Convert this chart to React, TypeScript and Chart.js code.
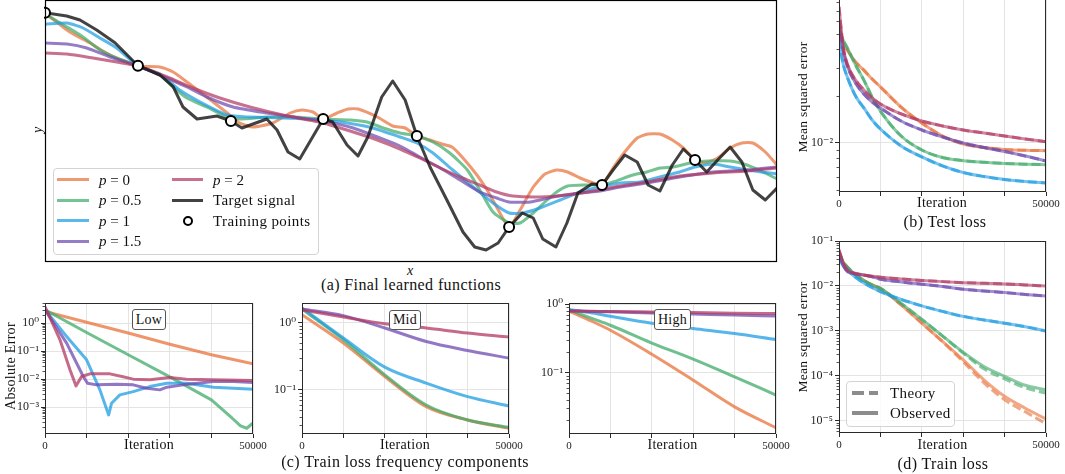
import React, { useEffect, useRef } from 'react';
import { Chart, registerables } from 'chart.js';

Chart.register(...registerables);

const FONT = '"Liberation Serif", "DejaVu Serif", serif';
Chart.defaults.font.family = FONT;

// ---------- colours of the five p values ----------
const COLOR_P0 = [232, 113, 58];
const COLOR_P05 = [64, 170, 106];
const COLOR_P1 = [30, 156, 226];
const COLOR_P15 = [108, 74, 176];
const COLOR_P2 = [178, 58, 98];
const rgba = (c: number[], a: number) => `rgba(${c[0]},${c[1]},${c[2]},${a})`;

// ---------- (a) final learned functions: [x, y] ----------
const targetSignal: [number, number][] = [
  [0, 1.873], [0.0296, 1.84], [0.0478, 1.8], [0.0706, 1.7], [0.0956, 1.573], [0.127, 1.343],
  [0.157, 1.25], [0.175, 1.133], [0.1885, 0.93], [0.2077, 0.81], [0.235, 0.84], [0.254, 0.79],
  [0.269, 0.72], [0.303, 0.81], [0.317, 0.7], [0.332, 0.48], [0.348, 0.41], [0.38, 0.81],
  [0.393, 0.78], [0.4126, 0.55], [0.4276, 0.44], [0.441, 0.63], [0.46, 1.03], [0.475, 1.19],
  [0.492, 1.0], [0.508, 0.64], [0.526, 0.33], [0.549, 0.0], [0.571, -0.32], [0.587, -0.47],
  [0.6025, -0.5], [0.619, -0.43], [0.634, -0.27], [0.652, -0.13], [0.667, -0.18], [0.68, -0.39],
  [0.698, -0.47], [0.713, -0.23], [0.728, 0.07], [0.747, 0.16], [0.761, 0.15], [0.776, 0.3],
  [0.792, 0.45], [0.809, 0.38], [0.824, 0.15], [0.84, 0.09], [0.857, 0.35], [0.872, 0.51],
  [0.888, 0.4], [0.904, 0.28], [0.919, 0.4], [0.936, 0.53], [0.952, 0.38], [0.967, 0.1],
  [0.984, 0.0], [1.0, 0.12],
];
const trainingPoints: [number, number][] = [
  [0, 1.873], [0.127, 1.343], [0.254, 0.79], [0.38, 0.81], [0.508, 0.64], [0.634, -0.27], [0.761, 0.15], [0.888, 0.4],
];
const fnP0: [number, number][] = [
  [0, 1.87], [0.034, 1.68], [0.0615, 1.57], [0.0888, 1.45], [0.127, 1.34], [0.157, 1.33], [0.175, 1.28],
  [0.194, 1.18], [0.221, 1.03], [0.249, 0.87], [0.266, 0.77], [0.284, 0.73], [0.311, 0.77], [0.335, 0.87],
  [0.351, 0.9], [0.366, 0.88], [0.38, 0.81], [0.399, 0.87], [0.414, 0.91], [0.428, 0.91], [0.454, 0.83],
  [0.475, 0.74], [0.492, 0.72], [0.508, 0.64], [0.526, 0.6], [0.542, 0.56], [0.556, 0.53], [0.571, 0.42],
  [0.59, 0.25], [0.604, 0.1], [0.617, -0.07], [0.634, -0.27], [0.649, -0.1], [0.667, 0.13], [0.683, 0.26],
  [0.699, 0.3], [0.714, 0.28], [0.731, 0.22], [0.749, 0.17], [0.761, 0.15], [0.776, 0.32], [0.792, 0.48],
  [0.809, 0.62], [0.824, 0.66], [0.84, 0.66], [0.857, 0.6], [0.872, 0.52], [0.888, 0.4], [0.902, 0.37],
  [0.919, 0.42], [0.936, 0.52], [0.952, 0.57], [0.967, 0.57], [0.984, 0.48], [1.0, 0.35],
];
const fnP05: [number, number][] = [
  [0, 1.86], [0.03, 1.73], [0.052, 1.63], [0.075, 1.5], [0.098, 1.42], [0.127, 1.34], [0.157, 1.25],
  [0.175, 1.13], [0.194, 1.02], [0.221, 0.93], [0.249, 0.83], [0.266, 0.81], [0.303, 0.83], [0.339, 0.83],
  [0.38, 0.81], [0.417, 0.8], [0.44, 0.78], [0.462, 0.72], [0.485, 0.67], [0.508, 0.64], [0.53, 0.58],
  [0.553, 0.47], [0.577, 0.3], [0.594, 0.1], [0.612, -0.12], [0.634, -0.23], [0.649, -0.23], [0.667, -0.13],
  [0.686, 0.0], [0.699, 0.08], [0.714, 0.14], [0.74, 0.15], [0.761, 0.15], [0.776, 0.18], [0.803, 0.25],
  [0.822, 0.28], [0.84, 0.32], [0.858, 0.33], [0.888, 0.38], [0.906, 0.39], [0.936, 0.39], [0.959, 0.35],
  [0.981, 0.28], [1.0, 0.21],
];
const fnP1: [number, number][] = [
  [0, 1.76], [0.03, 1.77], [0.052, 1.72], [0.075, 1.62], [0.098, 1.52], [0.127, 1.34], [0.157, 1.26],
  [0.184, 1.1], [0.212, 0.98], [0.249, 0.85], [0.28, 0.83], [0.325, 0.82], [0.38, 0.8], [0.421, 0.76],
  [0.448, 0.72], [0.485, 0.63], [0.508, 0.57], [0.53, 0.47], [0.557, 0.3], [0.585, 0.13], [0.612, -0.03],
  [0.634, -0.13], [0.653, -0.13], [0.676, -0.08], [0.704, 0.0], [0.731, 0.08], [0.758, 0.13], [0.786, 0.17],
  [0.813, 0.18], [0.84, 0.23], [0.867, 0.28], [0.888, 0.33], [0.913, 0.36], [0.936, 0.33], [0.959, 0.3],
  [1.0, 0.26],
];
const fnP15: [number, number][] = [
  [0, 1.57], [0.03, 1.56], [0.057, 1.52], [0.089, 1.43], [0.127, 1.34], [0.157, 1.25], [0.194, 1.13],
  [0.221, 1.03], [0.257, 0.93], [0.303, 0.87], [0.348, 0.82], [0.38, 0.79], [0.421, 0.72], [0.454, 0.63],
  [0.485, 0.54], [0.512, 0.43], [0.54, 0.32], [0.567, 0.2], [0.594, 0.08], [0.617, 0.02], [0.634, -0.02],
  [0.663, -0.02], [0.694, 0.03], [0.731, 0.07], [0.758, 0.09], [0.786, 0.13], [0.822, 0.17], [0.867, 0.23],
  [0.913, 0.28], [0.959, 0.3], [1.0, 0.33],
];
const fnP2: [number, number][] = [
  [0, 1.47], [0.03, 1.46], [0.0656, 1.42], [0.098, 1.38], [0.127, 1.34], [0.167, 1.23], [0.202, 1.12],
  [0.239, 1.02], [0.28, 0.93], [0.325, 0.85], [0.38, 0.77], [0.421, 0.68], [0.454, 0.6], [0.485, 0.51],
  [0.512, 0.42], [0.54, 0.32], [0.567, 0.23], [0.594, 0.15], [0.617, 0.08], [0.639, 0.04], [0.676, 0.03],
  [0.713, 0.05], [0.749, 0.09], [0.786, 0.14], [0.822, 0.18], [0.867, 0.24], [0.913, 0.27], [0.959, 0.29],
  [1.0, 0.32],
];

// ---------- (b) test loss and (d) train loss ----------
const ITER = [0, 1000, 2000, 4000, 6000, 8000, 10000, 15000, 20000, 25000, 30000, 35000, 40000, 45000, 50000];
const testP0 = [0.058, 0.0436, 0.0393, 0.0329, 0.0292, 0.0256, 0.0228, 0.0169, 0.01336, 0.01104, 0.00981, 0.00932, 0.00905, 0.00894, 0.00889];
const testP05 = [0.0528, 0.0455, 0.0405, 0.0315, 0.0252, 0.0196, 0.01595, 0.01104, 0.00898, 0.00804, 0.00767, 0.00749, 0.00736, 0.00728, 0.00723];
const testP1 = [0.0455, 0.03195, 0.02636, 0.0199, 0.0167, 0.01398, 0.01224, 0.00953, 0.0081, 0.0071, 0.00644, 0.00607, 0.00581, 0.00564, 0.00552];
const testP15 = [0.061, 0.0393, 0.031, 0.02413, 0.0205, 0.01824, 0.0167, 0.01377, 0.01206, 0.01088, 0.00996, 0.00932, 0.00878, 0.00822, 0.00763];
const testP2 = [0.0741, 0.0411, 0.032, 0.0252, 0.0218, 0.01934, 0.0177, 0.01528, 0.01377, 0.0128, 0.01206, 0.01154, 0.01104, 0.01056, 0.01015];

const trainObsP0 = [0.0578, 0.0341, 0.0264, 0.01756, 0.01325, 0.01052, 0.0088, 0.00378, 0.00148, 0.000585, 0.000227, 0.0000815, 0.000035, 0.000019, 0.0000109];
const trainObsP05 = [0.0541, 0.0341, 0.0264, 0.01756, 0.01325, 0.01052, 0.0088, 0.00408, 0.0018, 0.000774, 0.000333, 0.000161, 0.0000975, 0.0000615, 0.0000489];
const trainObsP1 = [0.0448, 0.0278, 0.0227, 0.01545, 0.01166, 0.00926, 0.00746, 0.00501, 0.0036, 0.00271, 0.0021, 0.00175, 0.00148, 0.00123, 0.001];
const trainObsP15 = [0.0541, 0.0293, 0.021, 0.0185, 0.01738, 0.016, 0.0141, 0.01227, 0.01092, 0.00975, 0.00845, 0.00774, 0.0071, 0.00648, 0.006];
const trainObsP2 = [0.0631, 0.0324, 0.0227, 0.019, 0.01756, 0.01643, 0.0156, 0.01432, 0.01325, 0.01247, 0.01184, 0.01142, 0.01107, 0.01052, 0.01];
const trainTheoryP0 = [0.0578, 0.0341, 0.0264, 0.01756, 0.01325, 0.01052, 0.0088, 0.00378, 0.00148, 0.000575, 0.000205, 0.0000699, 0.0000293, 0.0000158, 0.00000858];
const trainTheoryP05 = [0.0541, 0.0341, 0.0264, 0.01756, 0.01325, 0.01052, 0.0088, 0.00408, 0.0018, 0.000765, 0.00032, 0.000143, 0.0000857, 0.0000541, 0.0000413];
const trainTheoryP1 = [0.0448, 0.0278, 0.0227, 0.01545, 0.01166, 0.00926, 0.00746, 0.00501, 0.0036, 0.00271, 0.0021, 0.00175, 0.00148, 0.00123, 0.00098];
const trainTheoryP15 = [0.0541, 0.0293, 0.021, 0.0185, 0.01738, 0.016, 0.0141, 0.01227, 0.01092, 0.00975, 0.00845, 0.00774, 0.0071, 0.00648, 0.0059];
const trainTheoryP2 = [0.0631, 0.0324, 0.0227, 0.019, 0.01756, 0.01643, 0.0156, 0.01432, 0.01325, 0.01247, 0.01184, 0.01142, 0.01107, 0.01052, 0.0099];

// ---------- (c) train loss frequency components ----------
const lowIterP0 = [0, 10000, 20000, 30000, 40000, 50000];
const lowP0 = [2.6, 1.07, 0.44, 0.175, 0.0738, 0.0352];
const lowIterP05 = [0, 10000, 20000, 30000, 40000, 45000, 47000, 48500, 50000];
const lowP05 = [2.99, 0.461, 0.0738, 0.0121, 0.00182, 0.000405, 0.000215, 0.000178, 0.000275];
const lowIterP1 = [0, 5200, 10000, 13200, 15300, 16000, 18000, 21200, 25200, 29300, 34100, 40500, 45300, 50000];
const lowP1 = [2.99, 0.332, 0.0489, 0.00415, 0.000531, 0.00139, 0.00275, 0.0036, 0.00544, 0.0072, 0.0072, 0.00518, 0.00477, 0.0044];
const lowIterP15 = [0, 5200, 9200, 10200, 12400, 17200, 21200, 24400, 27600, 29300, 33200, 40500, 45300, 50000];
const lowP15 = [2.99, 0.193, 0.0124, 0.0072, 0.00626, 0.00663, 0.00626, 0.00477, 0.00415, 0.00518, 0.00626, 0.0082, 0.0082, 0.00757];
const lowIterP2 = [0, 3600, 6000, 7450, 8800, 10800, 15600, 18500, 21200, 25200, 30000, 34000, 40500, 50000];
const lowP2 = [3.82, 0.253, 0.0215, 0.00577, 0.0124, 0.01546, 0.01546, 0.0124, 0.01, 0.00944, 0.0114, 0.01, 0.00944, 0.00891];

const MID_ITER = [0, 10000, 20000, 30000, 40000, 50000];
const midP0 = [1.3, 0.494, 0.158, 0.0565, 0.0358, 0.027];
const midP05 = [1.58, 0.553, 0.167, 0.0598, 0.0358, 0.0279];
const midP1 = [1.636, 0.586, 0.217, 0.126, 0.0795, 0.0578];
const midP15 = [1.58, 1.26, 0.826, 0.522, 0.384, 0.296];
const midP2 = [1.53, 1.2, 0.956, 0.826, 0.696, 0.607];

const HIGH_ITER = [0, 5000, 10000, 20000, 30000, 40000, 50000];
const highP0 = [0.798, 0.583, 0.416, 0.185, 0.0771, 0.0313, 0.01545];
const highP05 = [0.836, 0.638, 0.493, 0.27, 0.157, 0.0863, 0.0466];
const highP1 = [0.836, 0.755, 0.667, 0.527, 0.441, 0.372, 0.304];
const highP15 = [0.798, 0.787, 0.775, 0.745, 0.72, 0.695, 0.674];
const highP2 = [0.798, 0.79, 0.785, 0.77, 0.755, 0.742, 0.731];

// ---------- helpers ----------
const GRID = '#e4e4e4';
const SPINE = '#2a2a2a';
const SUP: Record<string, string> = { '-': '\u207B', '0': '\u2070', '1': '\u00B9', '2': '\u00B2', '3': '\u00B3', '4': '\u2074', '5': '\u2075' };
const pow10Label = (v: number) => '10' + String(Math.round(Math.log10(v))).split('').map((c) => SUP[c]).join('');

function minorTicks(lo: number, hi: number): number[] {
  const out: number[] = [];
  for (let e = Math.floor(Math.log10(lo)); e <= Math.ceil(Math.log10(hi)); e++) {
    for (let m = 2; m <= 9; m++) {
      const v = m * Math.pow(10, e);
      if (v > lo && v < hi) out.push(v);
    }
  }
  return out;
}

const framePlugin = {
  id: 'frame',
  afterDatasetsDraw(chart: any, _args: any, opts: any) {
    const { ctx, chartArea: a } = chart;
    ctx.save();
    ctx.strokeStyle = opts.color || SPINE;
    ctx.lineWidth = opts.width || 1;
    ctx.strokeRect(Math.round(a.left) + 0.5, Math.round(a.top) + 0.5, Math.round(a.right - a.left) - 1, Math.round(a.bottom - a.top) - 1);
    if (opts.minors && chart.scales.y) {
      ctx.beginPath();
      for (const v of opts.minors) {
        const py = Math.round(chart.scales.y.getPixelForValue(v)) + 0.5;
        if (py < a.top || py > a.bottom) continue;
        ctx.moveTo(a.left - 2.5, py);
        ctx.lineTo(a.left, py);
      }
      ctx.lineWidth = 0.8;
      ctx.stroke();
    }
    ctx.restore();
  },
};

const series = (xs: number[], ys: number[], color: number[], alpha: number, order: number, dash: number[] = [], smooth = true) => ({
  data: xs.map((x, i) => ({ x, y: ys[i] })),
  borderColor: rgba(color, alpha),
  borderWidth: 3,
  borderDash: dash,
  borderJoinStyle: 'round',
  pointRadius: 0,
  fill: false,
  order,
  cubicInterpolationMode: smooth ? 'monotone' : 'default',
  tension: 0,
});

type LossPanel = {
  datasets: any[];
  yMin: number;
  yMax: number;
  majors: number[];
};

const Y_AXIS_W = 40;
const PAD_TOP = 10;
const PAD_RIGHT = 20;
const X_AXIS_H = 22;

function lossConfig(p: LossPanel): any {
  return {
    type: 'line',
    data: { datasets: p.datasets },
    options: {
      responsive: false,
      animation: false,
      devicePixelRatio: 1,
      layout: { autoPadding: false, padding: { left: 0, top: PAD_TOP, right: PAD_RIGHT, bottom: 0 } },
      plugins: {
        legend: { display: false },
        tooltip: { enabled: false },
        frame: { minors: minorTicks(p.yMin, p.yMax) },
      },
      scales: {
        x: {
          type: 'linear',
          min: 0,
          max: 50000,
          bounds: 'data',
          ticks: {
            stepSize: 10000,
            autoSkip: false,
            maxRotation: 0,
            padding: 2,
            color: '#222',
            font: { size: 11, family: FONT },
            callback: (v: number) => (v === 0 || v === 50000 ? String(v) : ''),
          },
          grid: { color: GRID, tickColor: SPINE, tickLength: 4, lineWidth: 1 },
          border: { display: false },
          afterFit: (s: any) => { s.height = X_AXIS_H; },
        },
        y: {
          type: 'logarithmic',
          min: p.yMin,
          max: p.yMax,
          bounds: 'data',
          afterBuildTicks: (s: any) => { s.ticks = p.majors.map((v) => ({ value: v })); },
          ticks: {
            autoSkip: false,
            padding: 2,
            color: '#222',
            font: { size: 12, family: FONT },
            callback: (v: number) => pow10Label(v),
          },
          grid: { color: GRID, tickColor: SPINE, tickLength: 4, lineWidth: 1 },
          border: { display: false },
          afterFit: (s: any) => { s.width = Y_AXIS_W; },
        },
      },
    },
    plugins: [framePlugin],
  };
}

function functionConfig(): any {
  const fn = (pts: [number, number][], color: number[], order: number) => ({
    data: pts.map(([x, y]) => ({ x, y })),
    borderColor: rgba(color, 0.72),
    borderWidth: 3,
    borderJoinStyle: 'round',
    pointRadius: 0,
    tension: 0.2,
    fill: false,
    order,
  });
  return {
    type: 'line',
    data: {
      datasets: [
        fn(fnP0, COLOR_P0, 7),
        fn(fnP05, COLOR_P05, 6),
        fn(fnP1, COLOR_P1, 5),
        fn(fnP15, COLOR_P15, 4),
        fn(fnP2, COLOR_P2, 3),
        {
          data: targetSignal.map(([x, y]) => ({ x, y })),
          borderColor: 'rgba(25,25,25,0.82)',
          borderWidth: 3,
          borderJoinStyle: 'round',
          pointRadius: 0,
          tension: 0,
          fill: false,
          order: 2,
        },
        {
          data: trainingPoints.map(([x, y]) => ({ x, y })),
          showLine: false,
          pointRadius: 5,
          pointBackgroundColor: '#ffffff',
          pointBorderColor: '#000000',
          pointBorderWidth: 2,
          clip: false,
          order: 1,
        },
      ],
    },
    options: {
      responsive: false,
      animation: false,
      devicePixelRatio: 1,
      layout: { autoPadding: false, padding: 1 },
      plugins: { legend: { display: false }, tooltip: { enabled: false }, frame: { color: '#000', width: 1.2 } },
      scales: {
        x: { type: 'linear', min: 0, max: 1, display: false },
        y: { type: 'linear', min: -0.62, max: 2.0, display: false },
      },
    },
    plugins: [framePlugin],
  };
}

const pairDatasets = (xs: number[], obs: number[][], theory: number[][]) => {
  const colors = [COLOR_P0, COLOR_P05, COLOR_P1, COLOR_P15, COLOR_P2];
  const out: any[] = [];
  colors.forEach((c, i) => {
    out.push(series(xs, obs[i], c, 0.62, 20 - 2 * i));
    out.push(series(xs, theory[i], c, 0.62, 19 - 2 * i, [9, 4]));
  });
  return out;
};

// ---------- components ----------
function ChartBox({ left, top, width, height, make }: { left: number; top: number; width: number; height: number; make: () => any }) {
  const ref = useRef<HTMLCanvasElement>(null);
  useEffect(() => {
    const chart = new Chart(ref.current as HTMLCanvasElement, make());
    return () => chart.destroy();
  }, []);
  return <canvas ref={ref} width={width} height={height} style={{ position: 'absolute', left, top, width, height }} />;
}

function LossBox({ plotLeft, plotTop, plotW, plotH, panel }: { plotLeft: number; plotTop: number; plotW: number; plotH: number; panel: LossPanel }) {
  return (
    <ChartBox
      left={plotLeft - Y_AXIS_W}
      top={plotTop - PAD_TOP}
      width={Y_AXIS_W + plotW + PAD_RIGHT}
      height={PAD_TOP + plotH + X_AXIS_H}
      make={() => lossConfig(panel)}
    />
  );
}

function Txt({ x, y, size, children, italic, ls, anchor }: any) {
  const tx = anchor === 'left' ? '0' : '-50%';
  return (
    <div
      style={{
        position: 'absolute',
        left: x,
        top: y,
        transform: `translate(${tx},-50%)`,
        fontSize: size,
        fontFamily: FONT,
        fontStyle: italic ? 'italic' : 'normal',
        whiteSpace: 'nowrap',
        lineHeight: 1,
        letterSpacing: ls || 0,
        color: '#111',
      }}
    >
      {children}
    </div>
  );
}

// vertical (rotated) label centred at integer (x, y)
function VTxt({ x, y, size, children, italic, ls }: any) {
  return (
    <div
      style={{
        position: 'absolute',
        left: x - 100,
        top: y - 8,
        width: 200,
        height: 16,
        lineHeight: '16px',
        textAlign: 'center',
        transform: 'rotate(-90deg)',
        fontSize: size,
        fontFamily: FONT,
        fontStyle: italic ? 'italic' : 'normal',
        whiteSpace: 'nowrap',
        letterSpacing: ls || 0,
        color: '#111',
      }}
    >
      {children}
    </div>
  );
}

function LegendLine({ x1, x2, y, color }: { x1: number; x2: number; y: number; color: string }) {
  return <div style={{ position: 'absolute', left: x1, top: y - 1.5, width: x2 - x1, height: 3, background: color }} />;
}

function BoxLabel({ left, top, w, h, text }: { left: number; top: number; w: number; h: number; text: string }) {
  return (
    <div
      style={{
        position: 'absolute', left, top, width: w, height: h, boxSizing: 'border-box',
        border: '1px solid #555', borderRadius: 3, background: '#fff',
        display: 'flex', alignItems: 'center', justifyContent: 'center',
        fontFamily: FONT, fontSize: 14, color: '#111', letterSpacing: 0.3,
      }}
    >
      {text}
    </div>
  );
}

const P = ({ v }: { v: string }) => (
  <span>
    <i>p</i> = {v}
  </span>
);

export default function App() {
  const lowPanel: LossPanel = {
    datasets: [
      series(lowIterP0, lowP0, COLOR_P0, 0.75, 7, [], false),
      series(lowIterP05, lowP05, COLOR_P05, 0.75, 6, [], false),
      series(lowIterP1, lowP1, COLOR_P1, 0.75, 5, [], false),
      series(lowIterP15, lowP15, COLOR_P15, 0.75, 4, [], false),
      series(lowIterP2, lowP2, COLOR_P2, 0.75, 3, [], false),
    ],
    yMin: 1.11e-4,
    yMax: 5.18,
    majors: [0.001, 0.01, 0.1, 1],
  };
  const midPanel: LossPanel = {
    datasets: [
      series(MID_ITER, midP0, COLOR_P0, 0.75, 7),
      series(MID_ITER, midP05, COLOR_P05, 0.75, 6),
      series(MID_ITER, midP1, COLOR_P1, 0.75, 5),
      series(MID_ITER, midP15, COLOR_P15, 0.75, 4),
      series(MID_ITER, midP2, COLOR_P2, 0.75, 3),
    ],
    yMin: 0.0222,
    yMax: 1.94,
    majors: [0.1, 1],
  };
  const highPanel: LossPanel = {
    datasets: [
      series(HIGH_ITER, highP0, COLOR_P0, 0.75, 7),
      series(HIGH_ITER, highP05, COLOR_P05, 0.75, 6),
      series(HIGH_ITER, highP1, COLOR_P1, 0.75, 5),
      series(HIGH_ITER, highP15, COLOR_P15, 0.75, 4),
      series(HIGH_ITER, highP2, COLOR_P2, 0.75, 3),
    ],
    yMin: 0.0125,
    yMax: 1.045,
    majors: [0.1, 1],
  };
  const testPanel: LossPanel = {
    datasets: pairDatasets(
      ITER,
      [testP0, testP05, testP1, testP15, testP2],
      [testP0, testP05, testP1, testP15, testP2],
    ),
    yMin: 0.00483,
    yMax: 0.0834,
    majors: [0.01],
  };
  const trainPanel: LossPanel = {
    datasets: pairDatasets(
      ITER,
      [trainObsP0, trainObsP05, trainObsP1, trainObsP15, trainObsP2],
      [trainTheoryP0, trainTheoryP05, trainTheoryP1, trainTheoryP15, trainTheoryP2],
    ),
    yMin: 5.33e-6,
    yMax: 0.1,
    majors: [1e-5, 1e-4, 1e-3, 1e-2, 1e-1],
  };

  return (
    <div style={{ position: 'absolute', left: 0, top: 0, width: 1065, height: 474, overflow: 'hidden', background: '#fff', fontFamily: FONT }}>
      {/* (a) */}
      <ChartBox left={44} top={-1} width={734} height={264} make={functionConfig} />
      <VTxt x={38} y={130} size={14} italic>y</VTxt>
      <Txt x={410} y={271} size={14} italic>x</Txt>
      <Txt x={411} y={285} size={16} ls={0.4}>(a) Final learned functions</Txt>

      <div style={{ position: 'absolute', left: 53, top: 168, width: 266, height: 87, boxSizing: 'border-box', border: '1px solid #d4d4d4', borderRadius: 4, background: 'rgba(255,255,255,0.85)' }} />
      <LegendLine x1={57} x2={89} y={179.5} color={rgba(COLOR_P0, 0.72)} />
      <LegendLine x1={57} x2={89} y={200} color={rgba(COLOR_P05, 0.72)} />
      <LegendLine x1={57} x2={89} y={220.5} color={rgba(COLOR_P1, 0.72)} />
      <LegendLine x1={57} x2={89} y={241} color={rgba(COLOR_P15, 0.72)} />
      <Txt x={99} y={179.5} size={15} anchor="left"><P v="0" /></Txt>
      <Txt x={99} y={200} size={15} anchor="left"><P v="0.5" /></Txt>
      <Txt x={99} y={220.5} size={15} anchor="left"><P v="1" /></Txt>
      <Txt x={99} y={241} size={15} anchor="left"><P v="1.5" /></Txt>
      <LegendLine x1={172} x2={203} y={179.5} color={rgba(COLOR_P2, 0.72)} />
      <LegendLine x1={172} x2={203} y={200} color="rgba(25,25,25,0.82)" />
      <div style={{ position: 'absolute', left: 182.5, top: 215.5, width: 10, height: 10, boxSizing: 'border-box', border: '2px solid #000', borderRadius: '50%', background: '#fff' }} />
      <Txt x={213} y={179.5} size={15} anchor="left"><P v="2" /></Txt>
      <Txt x={213} y={200} size={15} anchor="left" ls={0.4}>Target signal</Txt>
      <Txt x={213} y={220.5} size={15} anchor="left" ls={0.4}>Training points</Txt>

      {/* (b) */}
      <LossBox plotLeft={839} plotTop={-1} plotW={207} plotH={193} panel={testPanel} />
      <VTxt x={803} y={97} size={13.5} ls={0.3}>Mean squared error</VTxt>
      <Txt x={942} y={202.5} size={14} ls={0.3}>Iteration</Txt>
      <Txt x={945} y={221.5} size={16} ls={0.4}>(b) Test loss</Txt>

      {/* (c) */}
      <LossBox plotLeft={45} plotTop={303} plotW={208} plotH={131} panel={lowPanel} />
      <LossBox plotLeft={302} plotTop={303} plotW={207} plotH={131} panel={midPanel} />
      <LossBox plotLeft={569} plotTop={303} plotW={207} plotH={131} panel={highPanel} />
      <BoxLabel left={132} top={309} w={34} h={21} text="Low" />
      <BoxLabel left={389} top={310} w={32} h={20} text="Mid" />
      <BoxLabel left={654} top={309} w={37} h={21} text="High" />
      <VTxt x={11} y={366} size={14} ls={0.3}>Absolute Error</VTxt>
      <Txt x={149} y={445} size={14} ls={0.3}>Iteration</Txt>
      <Txt x={405} y={445} size={14} ls={0.3}>Iteration</Txt>
      <Txt x={672.5} y={445} size={14} ls={0.3}>Iteration</Txt>
      <Txt x={405} y={462} size={16} ls={0.4}>(c) Train loss frequency components</Txt>

      {/* (d) */}
      <LossBox plotLeft={839} plotTop={241} plotW={207} plotH={192} panel={trainPanel} />
      <VTxt x={803} y={337} size={13.5} ls={0.3}>Mean squared error</VTxt>
      <Txt x={942.5} y={445} size={14} ls={0.3}>Iteration</Txt>
      <Txt x={943} y={463.5} size={16} ls={0.4}>(d) Train loss</Txt>
      <div style={{ position: 'absolute', left: 846, top: 381, width: 109, height: 46, boxSizing: 'border-box', border: '1px solid #d4d4d4', borderRadius: 4, background: 'rgba(255,255,255,0.85)' }} />
      <div style={{ position: 'absolute', left: 852, top: 391, width: 12, height: 4, background: '#8c8c8c' }} />
      <div style={{ position: 'absolute', left: 869, top: 391, width: 9, height: 4, background: '#8c8c8c' }} />
      <div style={{ position: 'absolute', left: 852, top: 411, width: 26, height: 4, background: '#8c8c8c' }} />
      <Txt x={890} y={393} size={15} anchor="left" ls={0.4}>Theory</Txt>
      <Txt x={890} y={413} size={15} anchor="left" ls={0.4}>Observed</Txt>
    </div>
  );
}
